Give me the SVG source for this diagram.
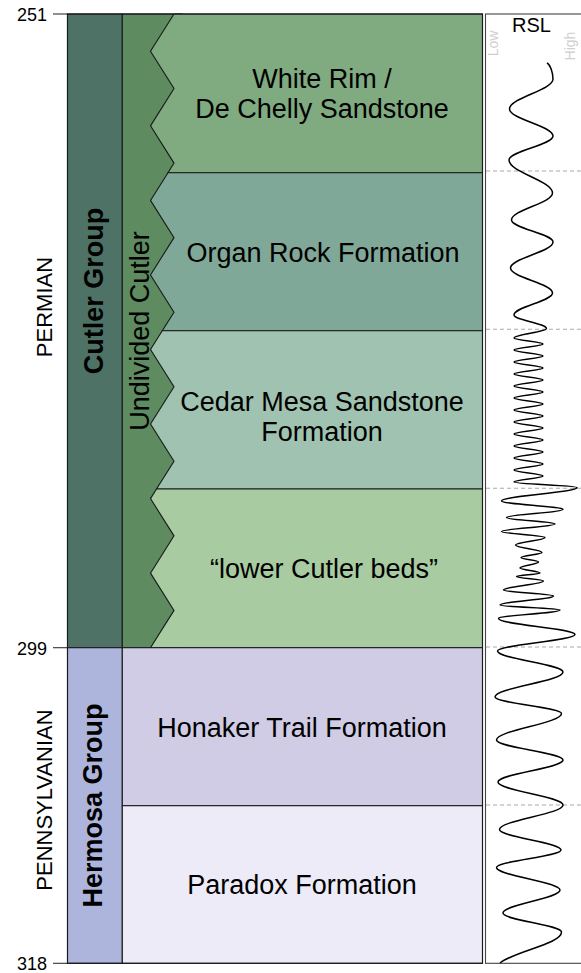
<svg xmlns="http://www.w3.org/2000/svg" width="581" height="973" viewBox="0 0 581 973">
<style>
text{font-family:"Liberation Sans",Arial,sans-serif;fill:#000}
.lbl{font-size:27px;text-anchor:middle}
.grp{font-size:27px;font-weight:bold;text-anchor:middle}
.per{font-size:22px;text-anchor:middle}
.age{font-size:18px;text-anchor:end}
.unit{stroke:#1a1a1a;stroke-width:1.1}
.tick{stroke:#333;stroke-width:1.1}
.dash{stroke:#aaa;stroke-width:1.1;stroke-dasharray:4 3}
.axis{font-size:14px;fill:#cfcfcf;text-anchor:middle}
</style>
<rect width="581" height="973" fill="#fff"/>

<g id="ages">
<line class="tick" x1="53" y1="14" x2="67.5" y2="14"/>
<text class="age" x="47" y="21">251</text>
<line class="tick" x1="53" y1="647.7" x2="67.5" y2="647.7"/>
<text class="age" x="47" y="654.5">299</text>
<line class="tick" x1="53" y1="963.3" x2="67.5" y2="963.3"/>
<text class="age" x="47" y="970">318</text>
</g>

<g id="periods">
<text class="per" transform="translate(51.5,307) rotate(-90)">PERMIAN</text>
<text class="per" transform="translate(51.5,800) rotate(-90)">PENNSYLVANIAN</text>
</g>

<g id="cutler-group">
<rect class="unit" x="67.5" y="14" width="54.8" height="633.7" fill="#4e7366"/>
<text class="grp" transform="translate(103,291) rotate(-90)">Cutler Group</text>
</g>

<g id="hermosa-group">
<rect class="unit" x="67.5" y="647.7" width="54.8" height="315.6" fill="#aeb5dc"/>
<text class="grp" transform="translate(101.5,805.5) rotate(-90)">Hermosa Group</text>
</g>

<g id="undivided-cutler">
<rect class="unit" x="122.3" y="14" width="60" height="633.7" fill="#5e8b60"/>
</g>

<g id="white-rim">
<path class="unit" d="M174,14 L150.5,51.3 L174,88.55 L150.5,125.85 L174,163.1 L168,172.7 L482.5,172.7 L482.5,14 Z" fill="#80ab81"/>
<text class="lbl" x="322" y="88">White Rim /</text>
<text class="lbl" x="322" y="117.5">De Chelly Sandstone</text>
</g>

<g id="organ-rock">
<path class="unit" d="M168,172.7 L150.5,200.4 L174,237.65 L150.5,274.95 L174,312.2 L162.3,330.7 L482.5,330.7 L482.5,172.7 Z" fill="#80a898"/>
<text class="lbl" x="323" y="261.5">Organ Rock Formation</text>
</g>

<g id="cedar-mesa">
<path class="unit" d="M162.3,330.7 L150.5,349.5 L174,386.75 L150.5,424.05 L174,461.3 L156.5,489 L482.5,489 L482.5,330.7 Z" fill="#9fc3b0"/>
<text class="lbl" x="322" y="411">Cedar Mesa Sandstone</text>
<text class="lbl" x="322" y="441">Formation</text>
</g>

<g id="lower-cutler">
<path class="unit" d="M156.5,489 L150.5,498.6 L174,535.85 L150.5,573.15 L174,610.4 L150.5,647.7 L482.5,647.7 L482.5,489 Z" fill="#a9cba1"/>
<text class="lbl" x="324" y="578">“lower Cutler beds”</text>
</g>

<g id="undivided-label">
<text class="lbl" transform="translate(148.5,331) rotate(-90)">Undivided Cutler</text>
</g>

<g id="honaker-trail">
<rect class="unit" x="122.3" y="647.7" width="360.2" height="158" fill="#d0cce5"/>
<text class="lbl" x="302" y="736.5">Honaker Trail Formation</text>
</g>

<g id="paradox">
<rect class="unit" x="122.3" y="805.7" width="360.2" height="157.6" fill="#ecebf7"/>
<text class="lbl" x="302" y="894">Paradox Formation</text>
</g>

<g id="frame">
<rect x="67.5" y="14" width="415" height="949.3" fill="none" stroke="#1a1a1a" stroke-width="1.1"/>
</g>

<g id="rsl">
<rect x="485.5" y="14" width="110" height="949.3" fill="#fff" stroke="#444" stroke-width="1.1"/>
<text x="531.5" y="32" style="font-size:20px;text-anchor:middle">RSL</text>
<text class="axis" transform="translate(497.5,43.5) rotate(-90)">Low</text>
<text class="axis" transform="translate(575,46) rotate(-90)">High</text>
</g>

<g id="connectors">
<line class="dash" x1="486" y1="171" x2="581" y2="171"/>
<line class="dash" x1="486" y1="329.3" x2="581" y2="329.3"/>
<line class="dash" x1="486" y1="488.3" x2="581" y2="488.3"/>
<line class="dash" x1="486" y1="647" x2="581" y2="647"/>
<line class="dash" x1="486" y1="805" x2="581" y2="805"/>
<path fill="none" stroke="#000" stroke-width="1.5" d="M547,63 C550.5,65 553,73 553,79
C553,90.1 509.5,97.9 509.5,109
C509.5,119 553,126 553,136
C553,144.9 509,151.1 509,160
C509,172.2 552.5,180.8 552.5,193
C552.5,203 511.5,210 511.5,220
C511.5,228.1 553,233.9 553,242
C553,251.6 510.5,258.4 510.5,268
C510.5,277.3 552.5,283.7 552.5,293
C552.5,301.1 514,306.9 514,315
C514,320 546.5,323.5 546.5,328.5
C546.5,332 514,334.5 514,338
C514,340.2 543,341.8 543,344
C543,346.2 514,347.8 514,350
C514,352.2 543,353.8 543,356
C543,358.2 514,359.8 514,362
C514,364.2 543,365.8 543,368
C543,370.2 514,371.8 514,374
C514,376.2 543,377.8 543,380
C543,382.2 514,383.8 514,386
C514,388.2 543,389.8 543,392
C543,394.2 514,395.8 514,398
C514,400.2 543,401.8 543,404
C543,406.2 514,407.8 514,410
C514,412.2 543,413.8 543,416
C543,418.2 514,419.8 514,422
C514,424.2 543,425.8 543,428
C543,430.2 514,431.8 514,434
C514,436.2 543,437.8 543,440
C543,442.2 514,443.8 514,446
C514,448.2 543,449.8 543,452
C543,454.2 514,455.8 514,458
C514,460.2 543,461.8 543,464
C543,466.2 514,467.8 514,470
C514,472.2 543,473.8 543,476
C543,478.2 514,479.8 514,482
C514,484 577,485.5 577,487.5
C577,492.5 501.5,496 501.5,501
C501.5,504.1 563,506.4 563,509.5
C563,512.5 506.5,514.5 506.5,517.5
C506.5,519.9 555,521.6 555,524
C555,526.8 501.5,528.7 501.5,531.5
C501.5,533.7 545,535.3 545,537.5
C545,540.3 515.5,542.2 515.5,545
C515.5,547.8 542,549.7 542,552.5
C542,554.4 521,555.6 521,557.5
C521,559.2 538.5,560.3 538.5,562
C538.5,564.2 520,565.8 520,568
C520,569.9 540,571.1 540,573
C540,574.3 516.5,575.2 516.5,576.5
C516.5,578.2 543.5,579.3 543.5,581
C543.5,584.3 503.5,586.7 503.5,590
C503.5,592.2 553.5,593.8 553.5,596
C553.5,599.3 500,601.7 500,605
C500,606.9 560,608.1 560,610
C560,613.1 498.5,615.4 498.5,618.5
C498.5,624.4 575,628.6 575,634.5
C575,640.6 497.5,644.9 497.5,651
C497.5,658.8 563,664.2 563,672
C563,681.3 495,687.7 495,697
C495,703.1 561.5,707.4 561.5,713.5
C561.5,723.3 496.5,730.2 496.5,740
C496.5,747.4 563,752.6 563,760
C563,768.1 498,773.9 498,782
C498,790.5 563,796.5 563,805
C563,814.1 499.5,820.4 499.5,829.5
C499.5,837.1 561,842.4 561,850
C561,856.5 496.5,861 496.5,867.5
C496.5,875.8 560,881.7 560,890
C560,898.5 503,904.5 503,913
C503,920 561.5,925 561.5,932
C561.5,944 515,951 500,963"/>
</g>
</svg>
